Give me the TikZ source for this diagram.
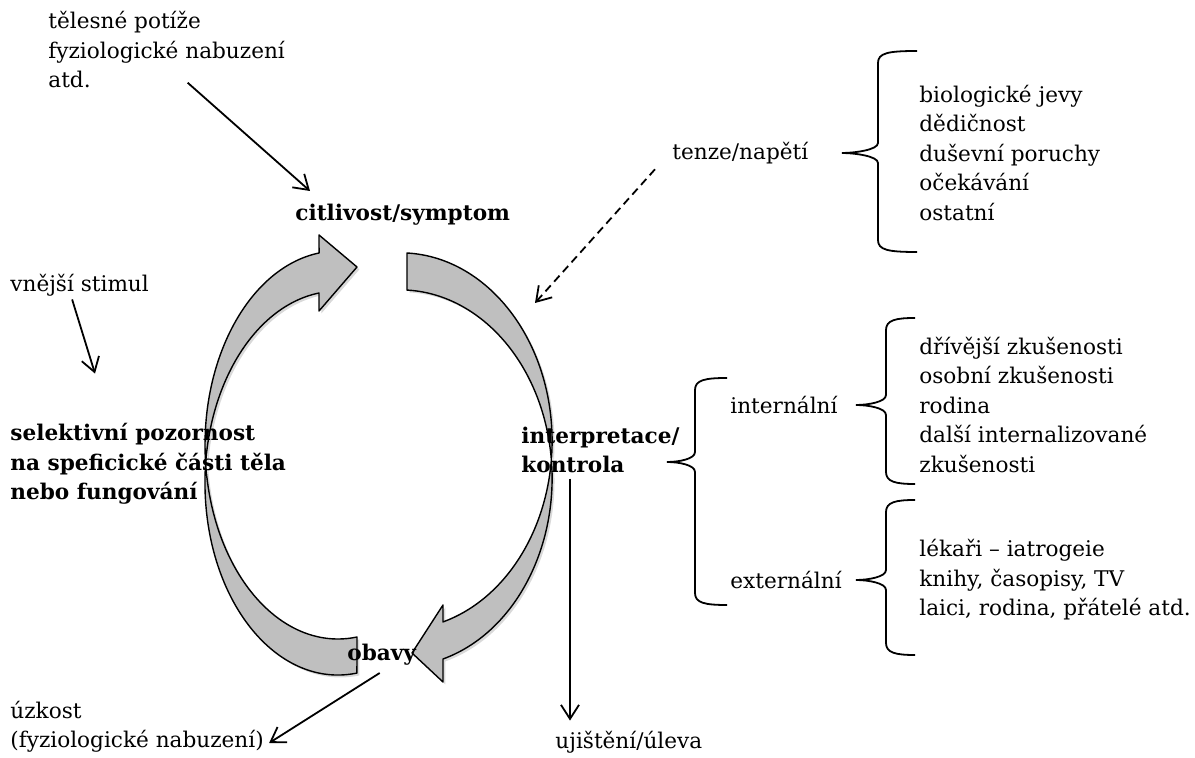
\documentclass[tikz,border=0pt]{standalone}
\usepackage{fontspec}
\setmainfont{DejaVu Serif}
\usepackage{xcolor}
\definecolor{ringgray}{HTML}{BFBFBF}
\usepackage{tikz}
\usetikzlibrary{arrows.meta, positioning, shapes, calc, shadows}

\tikzset{
  txt/.style={anchor=west, align=left, inner sep=0pt, font=\fontsize{10.8}{14.75}\selectfont},
  hlavni/.style={txt, font=\fontsize{10.8}{14.75}\selectfont\bfseries},
  sipka/.style={line width=0.9pt, -{Straight Barb[length=7pt,width=9pt]}},
  kruh/.style={fill=ringgray, draw=black, line width=0.7pt, line join=round,
    drop shadow={shadow xshift=1.2pt, shadow yshift=-1.2pt, opacity=0.3}},
  zavorka/.style={line width=0.9pt},
}

% brace: tip x, stem x, arm x, top y, tip y, bottom y
\newcommand{\zavorka}[6]{%
  \draw[zavorka] (#3,#4) .. controls (#2+10,#4) and (#2,#4+2) .. (#2,#4+12)
    -- (#2,#5-10) .. controls (#2,#5-3) and (#1+12,#5) .. (#1,#5)
    .. controls (#1+12,#5) and (#2,#5+3) .. (#2,#5+10)
    -- (#2,#6-12) .. controls (#2,#6-2) and (#2+10,#6) .. (#3,#6);}

\begin{document}
\begin{tikzpicture}[x=0.5pt, y=-0.5pt]
  \useasboundingbox (0,0) rectangle (1195,758);

  % --- ring of two curved arrows ---
  % left arrow (from obavy up to citlivost)
  \filldraw[kruh] (357,637) arc[start angle=81.8, end angle=261.8, x radius=133, y radius=194]
    -- (319,235) -- (357,267) -- (319,311) -- (319,293)
    arc[start angle=261.8, end angle=81.8, x radius=133, y radius=192] -- cycle;

  % right arrow (from citlivost down to obavy)
  \filldraw[kruh] (407,253) arc[start angle=272.6, end angle=433.6, x radius=152, y radius=188.4]
    -- (443,605) -- (412,653) -- (443,682) -- (443,659)
    arc[start angle=433.6, end angle=272.6, x radius=152, y radius=188.4] -- cycle;

  % --- texts ---
  \node[txt] (telesne) at (48,50) {tělesné potíže\\fyziologické nabuzení\\atd.};
  \node[hlavni] (citlivost) at (295,215) {citlivost/symptom};
  \node[txt] (tenze) at (672,153) {tenze/napětí};
  \node[txt] (vlivy) at (919,153) {biologické jevy\\dědičnost\\duševní poruchy\\očekávání\\ostatní};
  \node[txt] (stimul) at (10,285) {vnější stimul};
  \node[hlavni] (pozornost) at (10,464) {selektivní pozornost\\na speficické části těla\\nebo fungování};
  \node[hlavni] (interpretace) at (521,450) {interpretace/\\kontrola};
  \node[txt] (internalni) at (730,405) {internální};
  \node[txt] (intzdroje) at (919,405) {dřívější zkušenosti\\osobní zkušenosti\\rodina\\další internalizované\\zkušenosti};
  \node[txt] (externalni) at (730,580) {externální};
  \node[txt] (extzdroje) at (919,580) {lékaři – iatrogeie\\knihy, časopisy, TV\\laici, rodina, přátelé atd.};
  \node[hlavni] (obavy) at (347,655) {obavy};
  \node[txt] (uzkost) at (10,727) {úzkost\\(fyziologické nabuzení)};
  \node[txt] (ujisteni) at (555,742) {ujištění/úleva};
  \coordinate (napeti) at (535,303);

  % --- braces ---
  \zavorka{842}{878}{917}{51}{153}{252}
  \zavorka{667}{695}{727}{378}{462}{605}
  \zavorka{856}{886}{915}{318}{405}{484}
  \zavorka{856}{886}{915}{500}{580}{655}

  % --- connectors ---
  \draw[sipka] ([xshift=10.5pt,yshift=3pt]telesne.south) -- ([xshift=7.5pt,yshift=6.5pt]citlivost.north west);
  \draw[sipka] ([xshift=-3.75pt,yshift=-1.5pt]stimul.south) -- ([xshift=42.5pt,yshift=24.75pt]pozornost.north west);
  \draw[sipka, dash pattern=on 4pt off 2.5pt] ([xshift=-8.5pt,yshift=-2.5pt]tenze.south west) -- (napeti);
  \draw[sipka] ([xshift=-1pt,yshift=-3.5pt]obavy.south) -- ([xshift=2.5pt,yshift=-8pt]uzkost.east);
  \draw[sipka] ([xshift=24.5pt,yshift=-2.5pt]interpretace.south west) -- ([xshift=7.5pt,yshift=5pt]ujisteni.north west);
\end{tikzpicture}
\end{document}
